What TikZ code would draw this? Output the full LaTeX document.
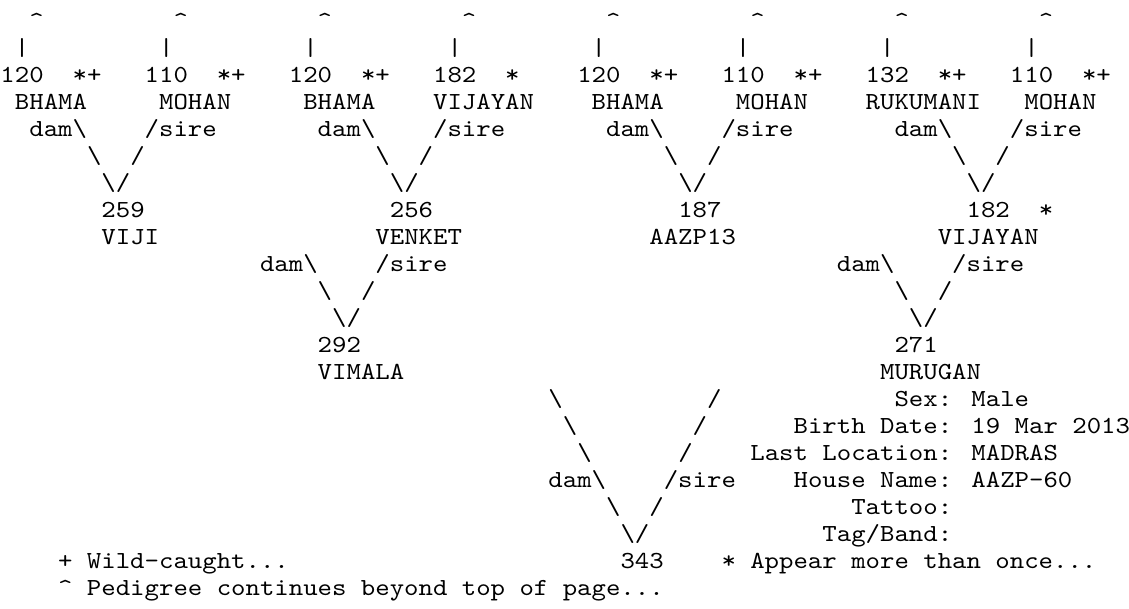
\documentclass[tikz,border=0pt]{standalone}
\usepackage{fontspec}
\newfontfamily\pedfont{lmmono10-regular.otf}[FakeStretch=1.121]
\newcommand\bs{\char92\relax}
\newcommand\caret{\char94\relax}
\newcommand\vbar{\char124\relax}
\tikzset{asc/.style={anchor=base west, inner sep=0pt, outer sep=0pt,
  font=\pedfont\fontsize{24.5pt}{27pt}\selectfont, text=black}}
\newcommand\tok[4]{\node[asc] (#1) at (#2,#3) {#4};}
\begin{document}
\begin{tikzpicture}[x=14.42pt,y=-27pt]
\fill[white] (0pt,0pt) rectangle (1129pt,-608pt);
\useasboundingbox (0pt,0pt) rectangle (1129pt,-608pt);
\begin{scope}[shift={(0.5pt,-1pt)}]
% line 1-2: continuation marks
\foreach \k in {0,...,7}{
  \node[asc] (up\k) at (10*\k+2,1) {\caret};
  \node[asc] (bar\k) at (10*\k+1,2) {\vbar};
}
% line 3: great-grandparents numbers
\tok{n0}{0}{3}{120}  \tok{m0}{5}{3}{*+}
\tok{n1}{10}{3}{110} \tok{m1}{15}{3}{*+}
\tok{n2}{20}{3}{120} \tok{m2}{25}{3}{*+}
\tok{n3}{30}{3}{182} \tok{m3}{35}{3}{*}
\tok{n4}{40}{3}{120} \tok{m4}{45}{3}{*+}
\tok{n5}{50}{3}{110} \tok{m5}{55}{3}{*+}
\tok{n6}{60}{3}{132} \tok{m6}{65}{3}{*+}
\tok{n7}{70}{3}{110} \tok{m7}{75}{3}{*+}
% line 4: names
\tok{na0}{1}{4}{BHAMA}
\tok{na1}{11}{4}{MOHAN}
\tok{na2}{21}{4}{BHAMA}
\tok{na3}{30}{4}{VIJAYAN}
\tok{na4}{41}{4}{BHAMA}
\tok{na5}{51}{4}{MOHAN}
\tok{na6}{60}{4}{RUKUMANI}
\tok{na7}{71}{4}{MOHAN}
% line 5: dam / sire
\tok{d0}{2}{5}{dam\bs}  \tok{s0}{10}{5}{/sire}
\tok{d1}{22}{5}{dam\bs} \tok{s1}{30}{5}{/sire}
\tok{d2}{42}{5}{dam\bs} \tok{s2}{50}{5}{/sire}
\tok{d3}{62}{5}{dam\bs} \tok{s3}{70}{5}{/sire}
% lines 6-7
\foreach \k in {0,...,3}{
  \node[asc] (bl\k) at (20*\k+6,6) {\bs};
  \node[asc] (fl\k) at (20*\k+9,6) {/};
  \node[asc] (v\k) at (20*\k+7,7) {\bs/};
}
% line 8-9: grandparents
\tok{g0}{7}{8}{259}
\tok{g1}{27}{8}{256}
\tok{g2}{47}{8}{187}
\tok{g3}{67}{8}{182} \tok{gm3}{72}{8}{*}
\tok{gn0}{7}{9}{VIJI}
\tok{gn1}{26}{9}{VENKET}
\tok{gn2}{45}{9}{AAZP13}
\tok{gn3}{65}{9}{VIJAYAN}
% line 10-12
\tok{gd0}{18}{10}{dam\bs} \tok{gs0}{26}{10}{/sire}
\tok{gd1}{58}{10}{dam\bs} \tok{gs1}{66}{10}{/sire}
\tok{gb0}{22}{11}{\bs} \tok{gf0}{25}{11}{/}
\tok{gb1}{62}{11}{\bs} \tok{gf1}{65}{11}{/}
\tok{gv0}{23}{12}{\bs/}
\tok{gv1}{63}{12}{\bs/}
% line 13-14: parents
\tok{p0}{22}{13}{292}
\tok{p1}{62}{13}{271}
\tok{pn0}{22}{14}{VIMALA}
\tok{pn1}{61}{14}{MURUGAN}
% lines 15-20: root branches and details
\tok{rb1}{38}{15}{\bs} \tok{rf1}{49}{15}{/}
\tok{rb2}{39}{16}{\bs} \tok{rf2}{48}{16}{/}
\tok{rb3}{40}{17}{\bs} \tok{rf3}{47}{17}{/}
\tok{rd}{38}{18}{dam\bs} \tok{rs}{46}{18}{/sire}
\tok{rb5}{42}{19}{\bs} \tok{rf5}{45}{19}{/}
\tok{rv}{43}{20}{\bs/}
\tok{i1}{62}{15}{Sex: Male}
\tok{i2}{55}{16}{Birth Date: 19 Mar 2013}
\tok{i3}{52}{17}{Last Location: MADRAS}
\tok{i4}{55}{18}{House Name: AAZP-60}
\tok{i5}{59}{19}{Tattoo:}
\tok{i6}{57}{20}{Tag/Band:}
% line 21-22
\tok{root}{43}{21}{343}
\tok{leg1}{4}{21}{+ Wild-caught...}
\tok{leg2}{50}{21}{* Appear more than once...}
\tok{leg3}{4}{22}{\caret{} Pedigree continues beyond top of page...}
\end{scope}
\end{tikzpicture}
\end{document}
